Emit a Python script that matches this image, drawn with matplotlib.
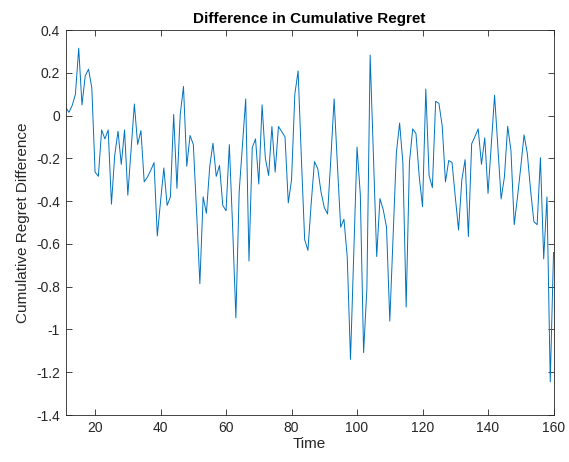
import numpy as np
import matplotlib
matplotlib.use('Agg')
import matplotlib.pyplot as plt
from matplotlib.ticker import FuncFormatter

plt.rcParams['font.family'] = ['Liberation Sans', 'DejaVu Sans']
plt.rcParams['axes.unicode_minus'] = False

time = np.arange(11, 161)
regret_diff = [
    0.04, 0.015, 0.047, 0.10, 0.315, 0.05, 0.186, 0.217, 0.13,          # 11-19
    -0.264, -0.284, -0.067, -0.109, -0.067, -0.414, -0.186, -0.073, -0.228, -0.067,  # 20-29
    -0.372, -0.16, 0.054, -0.135, -0.07, -0.31, -0.287, -0.256, -0.22, -0.563,       # 30-39
    -0.40, -0.245, -0.42, -0.38, 0.005, -0.34, 0.005, 0.136, -0.237, -0.093,         # 40-49
    -0.135, -0.45, -0.786, -0.38, -0.457, -0.24, -0.129, -0.284, -0.233, -0.42,      # 50-59
    -0.445, -0.136, -0.52, -0.946, -0.357, -0.14, 0.078, -0.68, -0.15, -0.109,       # 60-69
    -0.32, 0.05, -0.20, -0.28, -0.051, -0.264, -0.051, -0.075, -0.10, -0.408,        # 70-79
    -0.30, 0.10, 0.209, -0.2, -0.58, -0.63, -0.41, -0.215, -0.248, -0.357,           # 80-89
    -0.43, -0.46, -0.2, 0.078, -0.23, -0.522, -0.485, -0.66, -1.14, -0.64,           # 90-99
    -0.147, -0.37, -1.108, -0.81, 0.283, -0.19, -0.659, -0.388, -0.44, -0.522,       # 100-109
    -0.961, -0.57, -0.175, -0.035, -0.222, -0.895, -0.217, -0.062, -0.085, -0.287,   # 110-119
    -0.426, 0.124, -0.28, -0.337, 0.067, 0.057, -0.047, -0.31, -0.21, -0.219,        # 120-129
    -0.38, -0.535, -0.30, -0.206, -0.566, -0.132, -0.098, -0.062, -0.228, -0.104,    # 130-139
    -0.364, -0.135, 0.095, -0.15, -0.39, -0.287, -0.05, -0.163, -0.51, -0.38,        # 140-149
    -0.24, -0.09, -0.178, -0.35, -0.496, -0.51, -0.197, -0.67, -0.38, -1.245,        # 150-159
    -0.64,                                                                            # 160
]
xticks = np.arange(20, 161, 20)
yticks = np.round(np.arange(-1.4, 0.41, 0.2), 1)

fig = plt.figure(figsize=(5.69, 4.62), dpi=100)
ax = fig.add_axes([0.1153, 0.1017, 0.8575, 0.8333])
ax.plot(time, regret_diff, color='#0072BD', lw=0.7)

ax.set_xlim(11, 160)
ax.set_ylim(-1.4, 0.4)
ax.set_xticks(xticks)
ax.set_yticks(yticks)
ax.yaxis.set_major_formatter(FuncFormatter(lambda v, p: '%g' % (round(v, 1) + 0.0)))

axcol = '#262626'
for s in ax.spines.values():
    s.set_color(axcol)
    s.set_linewidth(0.6)
ax.tick_params(direction='in', top=True, right=True, length=4, width=0.6,
               colors=axcol, labelsize=10, pad=4)

ax.set_xlabel('Time', fontsize=11, color=axcol, labelpad=2)
ax.set_ylabel('Cumulative Regret Difference', fontsize=11, color=axcol, labelpad=4)
ax.set_title('Difference in Cumulative Regret', fontsize=11, fontweight='bold',
             color='black', pad=5)

fig.savefig('out.png', dpi=100)
